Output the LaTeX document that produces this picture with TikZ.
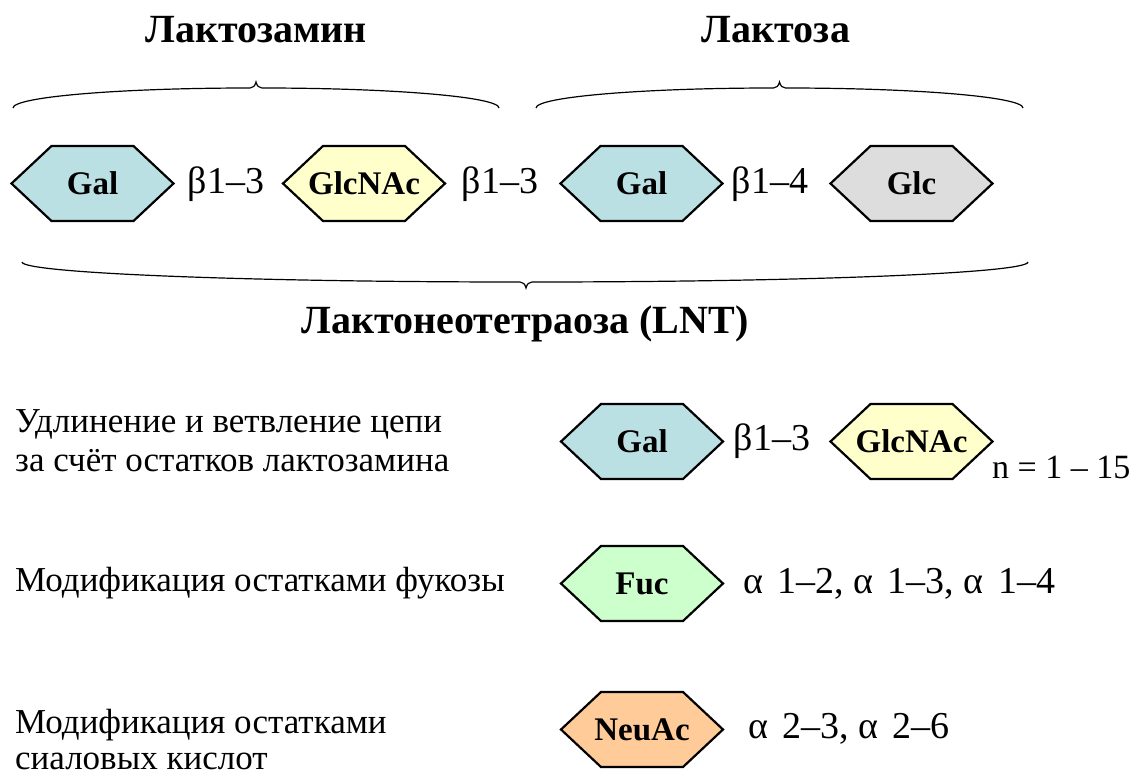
\documentclass[tikz,border=0pt]{standalone}
\usepackage{fontspec}
\setmainfont{Liberation Serif}
\usetikzlibrary{calc}
\definecolor{galc}{RGB}{187,224,228}
\definecolor{glcnacc}{RGB}{255,255,204}
\definecolor{glcc}{RGB}{221,221,221}
\definecolor{fucc}{RGB}{204,255,204}
\definecolor{neuacc}{RGB}{255,204,153}
\tikzset{
  hexline/.style={draw=black, line width=2.2pt, line join=miter},
  saclbl/.style={font=\rmfamily\bfseries\fontsize{33}{33}\selectfont, inner sep=0pt, anchor=base},
  bondlbl/.style={font=\rmfamily\fontsize{38}{38}\selectfont, inner sep=0pt, anchor=base},
  linklbl/.style={font=\rmfamily\fontsize{38}{38}\selectfont, inner sep=0pt, anchor=base west},
  titlelbl/.style={font=\rmfamily\bfseries\fontsize{40}{40}\selectfont, inner sep=0pt, anchor=base},
  desclbl/.style={font=\rmfamily\fontsize{35}{35}\selectfont, inner sep=0pt, anchor=base west},
  bracestyle/.style={draw=black, line width=1.2pt},
}
\newcommand\sugar[5]{%
  \draw[hexline, fill=#4] ({#2-81},#3) -- ++(40,-37.5) -- ++(82,0) -- ++(40,37.5) -- ++(-40,37.5) -- ++(-82,0) -- cycle;
  \node[saclbl] (#1) at (#2,{#3+10.5}) {#5};
}
\newcommand\gsp{\hspace{0.38em}}
\begin{document}
\begin{tikzpicture}[x=1pt,y=-1pt]
\useasboundingbox (0,0) rectangle (1136,776);

% titles
\node[titlelbl] (tlacn) at (256,43) {Лактозамин};
\node[titlelbl] (tlac) at (776,43) {Лактоза};
\node[titlelbl] (tlnt) at (525,333) {Лактонеотетраоза (LNT)};

% braces
\draw[bracestyle] (13,108) .. controls (13,97) and (118,88) .. (250,88)
  .. controls (253,88) and (255,86) .. (256,82)
  .. controls (257,86) and (259,88) .. (262,88)
  .. controls (394,88) and (499,97) .. (499,108);
\draw[bracestyle] (536,108) .. controls (536,97) and (641,88) .. (773.5,88)
  .. controls (776.5,88) and (778.5,86) .. (779.5,82)
  .. controls (780.5,86) and (782.5,88) .. (785.5,88)
  .. controls (918,88) and (1023,97) .. (1023,108);
\draw[bracestyle] (22,262) .. controls (22,273) and (245,282) .. (520,282)
  .. controls (523,282) and (525,284) .. (526,288)
  .. controls (527,284) and (529,282) .. (532,282)
  .. controls (807,282) and (1028,273) .. (1028,262);

% row 1
\sugar{gal1}{92.5}{183.5}{galc}{Gal}
\sugar{glcnac1}{364}{183.5}{glcnacc}{GlcNAc}
\sugar{gal2}{641.5}{183.5}{galc}{Gal}
\sugar{glc1}{911.5}{183.5}{glcc}{Glc}
\node[bondlbl] (b1) at (226,193) {β1–3};
\node[bondlbl] (b2) at (500,193) {β1–3};
\node[bondlbl] (b3) at (770,193) {β1–4};

% row 3
\node[desclbl] (d1) at (15,432) {Удлинение и ветвление цепи};
\node[desclbl] (d2) at (15,471) {за счёт остатков лактозамина};
\sugar{gal3}{642}{441.5}{galc}{Gal}
\sugar{glcnac2}{911.5}{441.5}{glcnacc}{GlcNAc}
\node[bondlbl] (b4) at (772,450) {β1–3};
\node[linklbl, font=\rmfamily\fontsize{34}{34}\selectfont] (nrep) at (992,478) {n = 1 – 15};

% row 4
\node[desclbl] (d3) at (15,591) {Модификация остатками фукозы};
\sugar{fuc}{642}{583.5}{fucc}{Fuc}
\node[linklbl] (a1) at (743,593) {α\gsp1–2, α\gsp1–3, α\gsp1–4};

% row 5
\node[desclbl] (d4) at (15,733) {Модификация остатками};
\node[desclbl] (d5) at (15,769) {сиаловых кислот};
\sugar{neuac}{642}{729.5}{neuacc}{NeuAc}
\node[linklbl] (a2) at (748,738) {α\gsp2–3, α\gsp2–6};
\end{tikzpicture}
\end{document}
